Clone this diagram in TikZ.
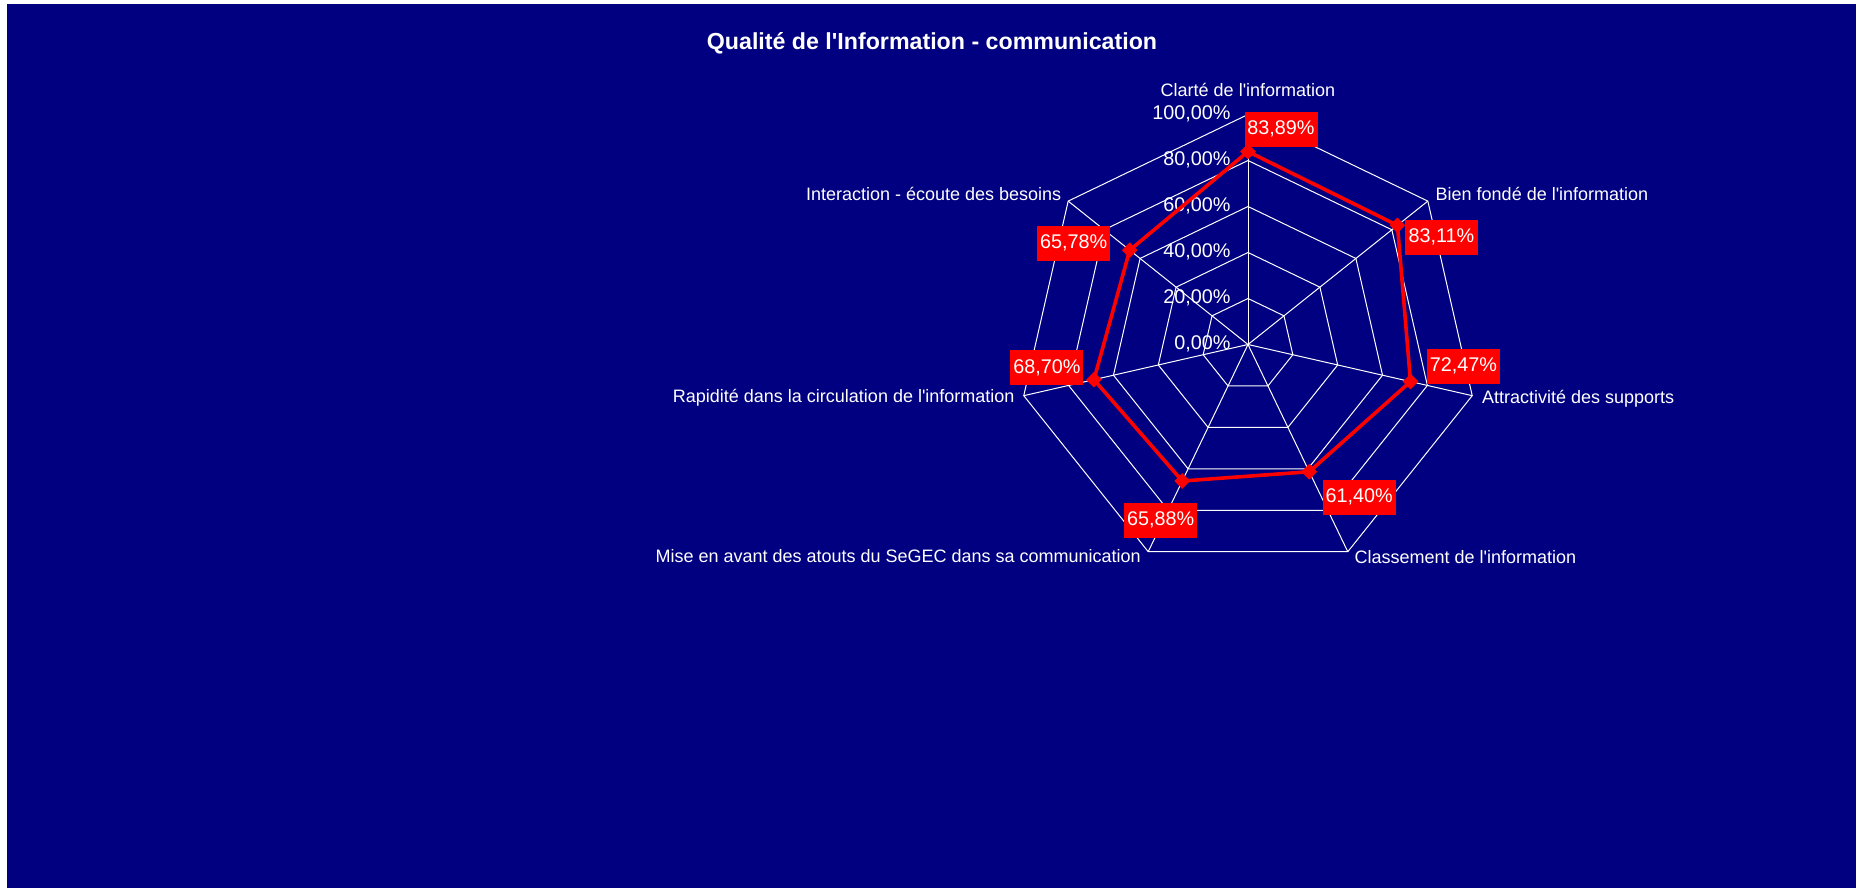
\documentclass[tikz,border=0pt]{standalone}
\usepackage{fontspec}
\setmainfont{Liberation Sans}[Ligatures=TeXOff]
\usepackage{tikz}
\usetikzlibrary{calc}
\usetikzlibrary{positioning}
\usetikzlibrary{shapes.geometric}
\usepackage{color}
\definecolor{chartnavy}{RGB}{0, 0, 128}
\definecolor{seriesred}{RGB}{255, 0, 0}

\begin{document}
\begin{tikzpicture}[x=0.5pt, y=0.5pt,
        gridline/.style={white, line width=0.5pt},
        ticklabel/.style={white, font=\fontsize{9.9}{11}\selectfont, anchor=base east, inner sep=0pt},
        catlabel/.style={white, font=\fontsize{9}{11}\selectfont, inner sep=0pt},
        series/.style={seriesred, line width=1.8pt, line join=round},
        marker/.style={diamond, fill=seriesred, inner sep=0pt, minimum size=8pt},
        datalabel/.style={fill=seriesred, text=white, font=\fontsize{9.9}{11}\selectfont, inner sep=0pt,
                          minimum width=36.5pt, minimum height=17.35pt, text height=7.2pt, text depth=1.8pt}]
            % Frame and background
            \useasboundingbox                                                 (-1248.0,-543.5) rectangle ( 608.0, 344.5);
            \fill[white]                                                      (-1248.0,-543.5) rectangle ( 608.0, 344.5);
            \fill[chartnavy]                                                  (-1241.0,-543.5) rectangle ( 608.0, 340.5);
            % Title
            \node[white, font=\fontsize{11.6}{14}\selectfont\bfseries, anchor=base, inner sep=0pt] (title)
                 at (-316.0, 295.2) {Qualité de l'Information - communication};
            % Axis ends
            \coordinate (o)  at (0, 0);
            \coordinate (v1) at (  90.0000:230);
            \coordinate (v2) at (  38.5714:230);
            \coordinate (v3) at ( -12.8571:230);
            \coordinate (v4) at ( -64.2857:230);
            \coordinate (v5) at (-115.7143:230);
            \coordinate (v6) at (-167.1429:230);
            \coordinate (v7) at ( 141.4286:230);
            % Grid rings
            \draw[gridline] (90:46)  -- (38.5714:46)  -- (-12.8571:46)  -- (-64.2857:46)  -- (-115.7143:46)  -- (-167.1429:46)  -- (141.4286:46)  -- cycle;
            \draw[gridline] (90:92)  -- (38.5714:92)  -- (-12.8571:92)  -- (-64.2857:92)  -- (-115.7143:92)  -- (-167.1429:92)  -- (141.4286:92)  -- cycle;
            \draw[gridline] (90:138) -- (38.5714:138) -- (-12.8571:138) -- (-64.2857:138) -- (-115.7143:138) -- (-167.1429:138) -- (141.4286:138) -- cycle;
            \draw[gridline] (90:184) -- (38.5714:184) -- (-12.8571:184) -- (-64.2857:184) -- (-115.7143:184) -- (-167.1429:184) -- (141.4286:184) -- cycle;
            \draw[gridline] (v1) -- (v2) -- (v3) -- (v4) -- (v5) -- (v6) -- (v7) -- cycle;
            % Spokes
            \draw[gridline] (o) -- (v1);
            \draw[gridline] (o) -- (v2);
            \draw[gridline] (o) -- (v3);
            \draw[gridline] (o) -- (v4);
            \draw[gridline] (o) -- (v5);
            \draw[gridline] (o) -- (v6);
            \draw[gridline] (o) -- (v7);
            % Scale
            \node[ticklabel] (t0) at (-17,  -5.5) {0,00\%};
            \node[ticklabel] (t1) at (-17,  40.5) {20,00\%};
            \node[ticklabel] (t2) at (-17,  86.5) {40,00\%};
            \node[ticklabel] (t3) at (-17, 132.5) {60,00\%};
            \node[ticklabel] (t4) at (-17, 178.5) {80,00\%};
            \node[ticklabel] (t5) at (-17, 224.5) {100,00\%};
            % Axis names
            \node[catlabel, anchor=base]      (c1) at ($(v1)+(  0.0, 17.8)$) {Clarté de l'information};
            \node[catlabel, anchor=base west] (c2) at ($(v2)+(  7.5,  1.0)$) {Bien fondé de l'information};
            \node[catlabel, anchor=base west] (c3) at ($(v3)+(  9.5, -7.6)$) {Attractivité des supports};
            \node[catlabel, anchor=base west] (c4) at ($(v4)+(  6.5,-11.6)$) {Classement de l'information};
            \node[catlabel, anchor=base east] (c5) at ($(v5)+( -7.0,-10.6)$) {Mise en avant des atouts du SeGEC dans sa communication};
            \node[catlabel, anchor=base east] (c6) at ($(v6)+( -8.8, -6.6)$) {Rapidité dans la circulation de l'information};
            \node[catlabel, anchor=base east] (c7) at ($(v7)+( -6.5,  1.0)$) {Interaction - écoute des besoins};
            % Scores
            \coordinate (p1) at (  90.0000:192.95);
            \coordinate (p2) at (  38.5714:191.15);
            \coordinate (p3) at ( -12.8571:166.68);
            \coordinate (p4) at ( -64.2857:141.22);
            \coordinate (p5) at (-115.7143:151.52);
            \coordinate (p6) at (-167.1429:158.01);
            \coordinate (p7) at ( 141.4286:151.29);
            \draw[series] (p1) -- (p2) -- (p3) -- (p4) -- (p5) -- (p6) -- (p7) -- cycle;
            \node[marker] (m1) at (p1) {};
            \node[marker] (m2) at (p2) {};
            \node[marker] (m3) at (p3) {};
            \node[marker] (m4) at (p4) {};
            \node[marker] (m5) at (p5) {};
            \node[marker] (m6) at (p6) {};
            \node[marker] (m7) at (p7) {};
            % Score labels
            \node[datalabel] (l1) at ($(p1)+( 33.0, 22.0)$) {83,89\%};
            \node[datalabel] (l2) at ($(p2)+( 44.0,-12.2)$) {83,11\%};
            \node[datalabel] (l3) at ($(p3)+( 53.0, 15.3)$) {72,47\%};
            \node[datalabel] (l4) at ($(p4)+( 50.0,-25.6)$) {61,40\%};
            \node[datalabel] (l5) at ($(p5)+(-21.5,-39.5)$) {65,88\%};
            \node[datalabel] (l6) at ($(p6)+(-47.0, 12.0)$) {68,70\%};
            \node[datalabel] (l7) at ($(p7)+(-56.0,  7.0)$) {65,78\%};
        \end{tikzpicture}
\end{document}
